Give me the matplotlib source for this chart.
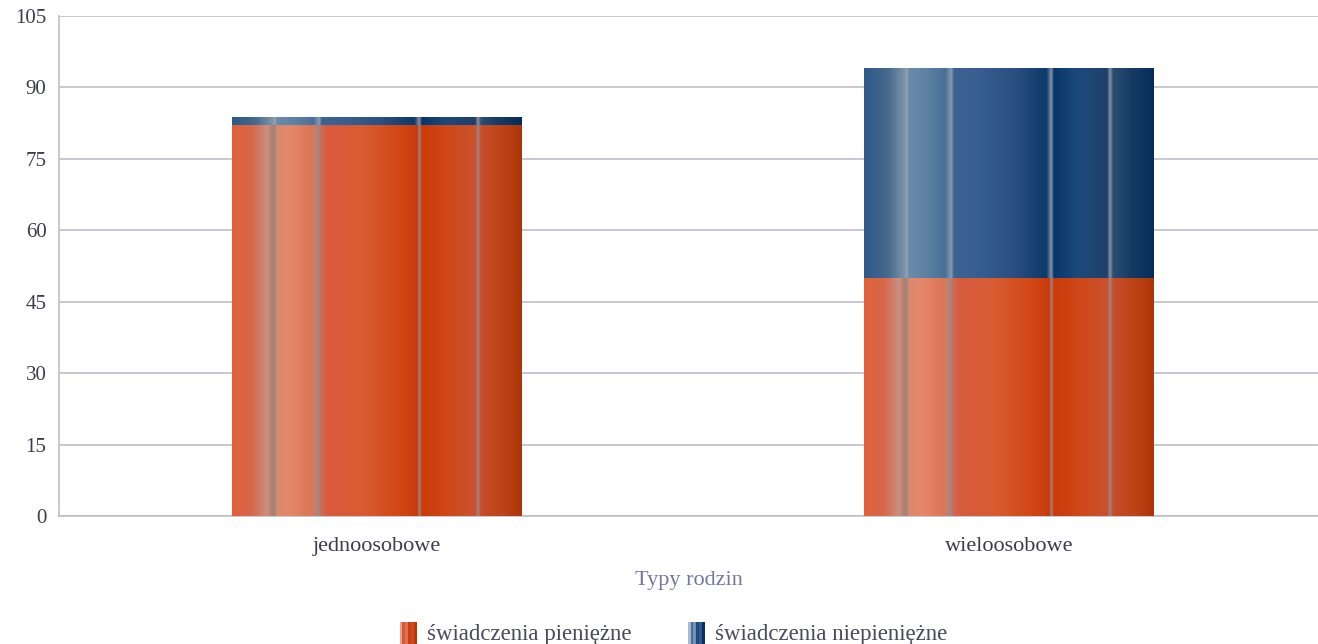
import numpy as np
import matplotlib
matplotlib.use("Agg")
import matplotlib.pyplot as plt
from matplotlib.colors import to_rgb
from matplotlib.patches import Rectangle
from matplotlib.legend_handler import HandlerBase

# ── DATA ───────────────────────────────────────────────────────────────────────
categories = ["jednoosobowe", "wieloosobowe"]
pieniezne = [82.1, 50.0]
niepieniezne = [1.6, 44.1]
series_names = ["świadczenia pieniężne", "świadczenia niepieniężne"]
y_ticks = [0, 15, 30, 45, 60, 75, 90, 105]

# ── STYLE ──────────────────────────────────────────────────────────────────────
plt.rcParams['font.family'] = ['Liberation Serif', 'DejaVu Serif']
GRID = '#bdbdd0'
TXT = '#3c3c4c'

# stripe profiles across a bar (fraction of width, colour)
ORANGE_STOPS = [
    (0.00, '#e0603a'), (0.07, '#d8684c'), (0.12, '#c9907f'), (0.138, '#b0806e'),
    (0.146, '#9a8680'), (0.154, '#d98a70'), (0.20, '#e6866a'), (0.27, '#dc7656'),
    (0.292, '#c08070'), (0.30, '#9a8a86'), (0.308, '#cf6a50'), (0.33, '#d85a40'),
    (0.45, '#d95c32'), (0.58, '#d24614'), (0.64, '#c83a0c'), (0.647, '#9a8a88'),
    (0.655, '#cc3a08'), (0.75, '#d0481a'), (0.84, '#c9522e'), (0.85, '#a08480'),
    (0.86, '#c64c2c'), (0.93, '#be4418'), (1.00, '#ae3606'),
]
BLUE_STOPS = [
    (0.00, '#2c5a88'), (0.08, '#46688c'), (0.12, '#6a86a2'), (0.14, '#7f94aa'),
    (0.146, '#98a4b4'), (0.154, '#6a8cab'), (0.22, '#5c80a2'), (0.28, '#48709a'),
    (0.30, '#8a9ab0'), (0.31, '#3c6492'), (0.40, '#375e90'), (0.52, '#2a4f80'),
    (0.63, '#0c3a6a'), (0.647, '#8a94a4'), (0.655, '#07366a'), (0.74, '#1c4a7c'),
    (0.84, '#20406a'), (0.85, '#8a94a6'), (0.86, '#2a4e72'), (0.92, '#163c66'),
    (1.00, '#062c5a'),
]
LEGEND_ORANGE = ['#e8a088', '#d85a38', '#e07050', '#c84018', '#d04a20', '#b83808']
LEGEND_BLUE = ['#a8bcd0', '#4a70a0', '#7890b0', '#1c4a80', '#2a5a90', '#0a2e60']


def stripe_image(stops, n=300):
    """1 x n RGB strip interpolated from colour stops."""
    xs = np.array([s[0] for s in stops])
    cols = np.array([to_rgb(s[1]) for s in stops])
    grid = np.linspace(0, 1, n)
    img = np.stack([np.interp(grid, xs, cols[:, k]) for k in range(3)], axis=-1)
    return img[np.newaxis, :, :]


def texture_bars(ax, bars, stops):
    img = stripe_image(stops)
    for b in bars:
        x0, y0 = b.get_x(), b.get_y()
        w, h = b.get_width(), b.get_height()
        im = ax.imshow(img, extent=(x0, x0 + w, y0, y0 + h), aspect='auto',
                       interpolation='bilinear', zorder=3)
        im.set_clip_path(b)
        b.set_facecolor('none')


class StripeHandler(HandlerBase):
    def __init__(self, colors):
        super().__init__()
        self.colors = colors

    def create_artists(self, legend, orig_handle, xdescent, ydescent,
                       width, height, fontsize, trans):
        n = len(self.colors)
        w = width * 0.62
        x0 = xdescent + width * 0.38
        h = height * 1.35
        y0 = -ydescent - height * 0.22
        return [Rectangle((x0 + i * w / n, y0), w / n, h, facecolor=c,
                          edgecolor='none', transform=trans)
                for i, c in enumerate(self.colors)]


# ── FIGURE ─────────────────────────────────────────────────────────────────────
fig = plt.figure(figsize=(13.18, 6.44), dpi=100)
ax = fig.add_axes([0.0448, 0.1988, 0.9552, 0.7764])

x = np.arange(len(categories))
bw = 0.458
bars1 = ax.bar(x, pieniezne, bw, zorder=3, linewidth=0)
bars2 = ax.bar(x, niepieniezne, bw, bottom=pieniezne, zorder=3, linewidth=0)
texture_bars(ax, bars1, ORANGE_STOPS)
texture_bars(ax, bars2, BLUE_STOPS)

ax.set_xlim(-0.502, 1.488)
ax.set_ylim(0, 105)
ax.set_yticks(y_ticks)
ax.set_xticks(x)
ax.set_xticklabels(categories, fontsize=16)
ax.yaxis.grid(True, color=GRID, linewidth=1.2, zorder=0)
ax.set_axisbelow(True)
for side in ['top', 'right']:
    ax.spines[side].set_visible(False)
for side in ['left', 'bottom']:
    ax.spines[side].set_color(GRID)
    ax.spines[side].set_linewidth(1.2)
ax.tick_params(axis='both', length=0, colors=TXT)
ax.tick_params(axis='y', pad=9, labelsize=15)
ax.tick_params(axis='x', pad=15)

ax.set_xlabel('Typy rodzin', fontsize=16, color='#76769c', labelpad=11)

handles = [Rectangle((0, 0), 1, 1), Rectangle((0, 0), 1, 1, label='b')]
leg = fig.legend(handles, series_names, loc='lower center',
                 bbox_to_anchor=(0.507, -0.034), ncol=2, frameon=False,
                 fontsize=16.5, handlelength=1.2, handletextpad=0.45,
                 columnspacing=2.0,
                 handler_map={handles[0]: StripeHandler(LEGEND_ORANGE),
                              handles[1]: StripeHandler(LEGEND_BLUE)})
for t in leg.get_texts():
    t.set_color('#4a4a5c')

fig.savefig('out.png', dpi=100, facecolor='white')
